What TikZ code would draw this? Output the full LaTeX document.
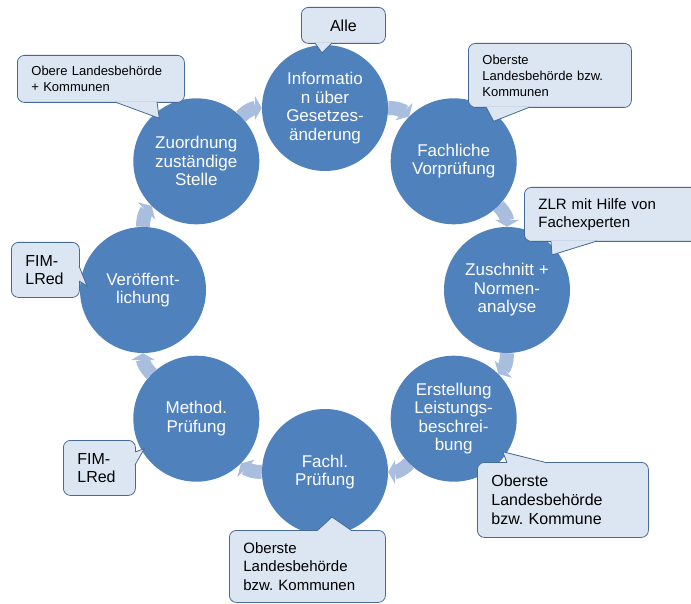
\documentclass[tikz,border=0pt]{standalone}
\usepackage{fontspec}
\setmainfont{Liberation Sans}
\usepackage{tikz}
\usetikzlibrary{arrows.meta,calc,backgrounds}
\definecolor{stageblue}{RGB}{79,129,189}
\definecolor{arrowblue}{RGB}{169,189,222}
\definecolor{notefill}{RGB}{220,230,242}
\definecolor{noteline}{RGB}{70,105,150}
\tikzstyle{stage} = [circle, minimum size=126pt, inner sep=0pt, fill=stageblue, text=white, align=center, font=\fontsize{17}{18.5}\selectfont]
\tikzstyle{cyclearrow} = [line width=14pt, color=arrowblue, -{Triangle[width=24pt,length=7pt]}]
\tikzstyle{note} = [rectangle, rounded corners=7pt, draw=noteline, fill=notefill, line width=0.8pt, align=left, inner xsep=14pt, inner ysep=0pt, anchor=north west]
\newcommand{\notetip}[3]{%
  \fill[notefill] #1 -- #2 -- #3 -- cycle;
  \draw[noteline, line width=0.8pt] #1 -- #2 -- #3;}
\frenchspacing

\begin{document}
\begin{tikzpicture}[x=1pt, y=1pt]
\useasboundingbox (0,0) rectangle (691,-604);
\clip (0,0) rectangle (691,-604);

% stages
\node[stage] (info) at (325,-108) {Informatio\\n über\\Gesetzes-\\änderung};
\node[stage] (vorpr) at (453.7,-161.3) {Fachliche\\Vorprüfung};
\node[stage] (zuschnitt) at (507,-290) {Zuschnitt +\\Normen-\\analyse};
\node[stage] (erst) at (453.7,-418.7) {Erstellung\\Leistungs-\\beschrei-\\bung};
\node[stage] (fachl) at (325,-472) {Fachl.\\Prüfung};
\node[stage] (method) at (196.3,-418.7) {Method.\\Prüfung};
\node[stage] (veroeff) at (143,-290) {Veröffent-\\lichung};
\node[stage] (zuord) at (196.3,-161.3) {Zuordnung\\zuständige\\Stelle};

% cycle arrows
\begin{scope}[on background layer]
\draw[cyclearrow] (info) to[bend left=22.5] (vorpr);
\draw[cyclearrow] (vorpr) to[bend left=22.5] (zuschnitt);
\draw[cyclearrow] (zuschnitt) to[bend left=22.5] (erst);
\draw[cyclearrow] (erst) to[bend left=22.5] (fachl);
\draw[cyclearrow] (fachl) to[bend left=22.5] (method);
\draw[cyclearrow] (method) to[bend left=22.5] (veroeff);
\draw[cyclearrow] (veroeff) to[bend left=22.5] (zuord);
\draw[cyclearrow] (zuord) to[bend left=22.5] (info);
\end{scope}

% notes
\node[note, align=center, minimum width=84pt, minimum height=36pt, font=\fontsize{16}{19}\selectfont] (infonote) at (301,-7) {Alle};
\notetip{($(infonote.south west)+(14,0.8)$)}{($(info)+(-3,55)$)}{($(infonote.south west)+(31,0.8)$)}

\node[note, text width=139pt, minimum height=47pt, font=\fontsize{13}{16}\selectfont] (zuordnote) at (17,-55) {Obere Landesbehörde\\+ Kommunen};
\notetip{($(zuordnote.south west)+(98,0.8)$)}{($(zuord)+(-37,43)$)}{($(zuordnote.south west)+(140,0.8)$)}

\node[note, text width=135pt, minimum height=64pt, font=\fontsize{13}{16}\selectfont] (vorprnote) at (468,-43) {Oberste\\Landesbehörde bzw.\\Kommunen};
\notetip{($(vorprnote.south west)+(18,0.8)$)}{($(vorpr)+(40,40)$)}{($(vorprnote.south west)+(62,0.8)$)}

\node[note, text width=162pt, minimum height=54pt, font=\fontsize{15}{18}\selectfont] (zuschnittnote) at (524,-187) {ZLR mit Hilfe von\\Fachexperten};
\notetip{($(zuschnittnote.south west)+(27,0.8)$)}{($(zuschnitt)+(45,35)$)}{($(zuschnittnote.south west)+(73,0.8)$)}

\node[note, text width=143pt, minimum height=75pt, font=\fontsize{16}{19}\selectfont] (erstnote) at (477,-462) {Oberste\\Landesbehörde\\bzw. Kommune};
\notetip{($(erstnote.north west)+(30,-0.8)$)}{($(erst)+(49,-33)$)}{($(erstnote.north west)+(70,-0.8)$)}

\node[note, text width=128pt, minimum height=72pt, font=\fontsize{15}{18.3}\selectfont] (fachlnote) at (229,-530) {Oberste\\Landesbehörde\\bzw. Kommunen};
\notetip{($(fachlnote.north west)+(88,-0.8)$)}{($(fachl)+(7,-45)$)}{($(fachlnote.north west)+(123,-0.8)$)}

\node[note, text width=40pt, minimum height=55pt, font=\fontsize{16}{18}\selectfont] (veroeffnote) at (11,-242) {FIM-\\LRed};
\notetip{($(veroeffnote.north east)+(-0.8,-24)$)}{($(veroeff)+(-56,4)$)}{($(veroeffnote.north east)+(-0.8,-39)$)}

\node[note, text width=44pt, minimum height=55pt, font=\fontsize{16}{18}\selectfont] (methodnote) at (63,-440) {FIM-\\LRed};
\notetip{($(methodnote.north east)+(-0.8,-12)$)}{($(method)+(-52,-30)$)}{($(methodnote.north east)+(-0.8,-25)$)}
\end{tikzpicture}
\end{document}
